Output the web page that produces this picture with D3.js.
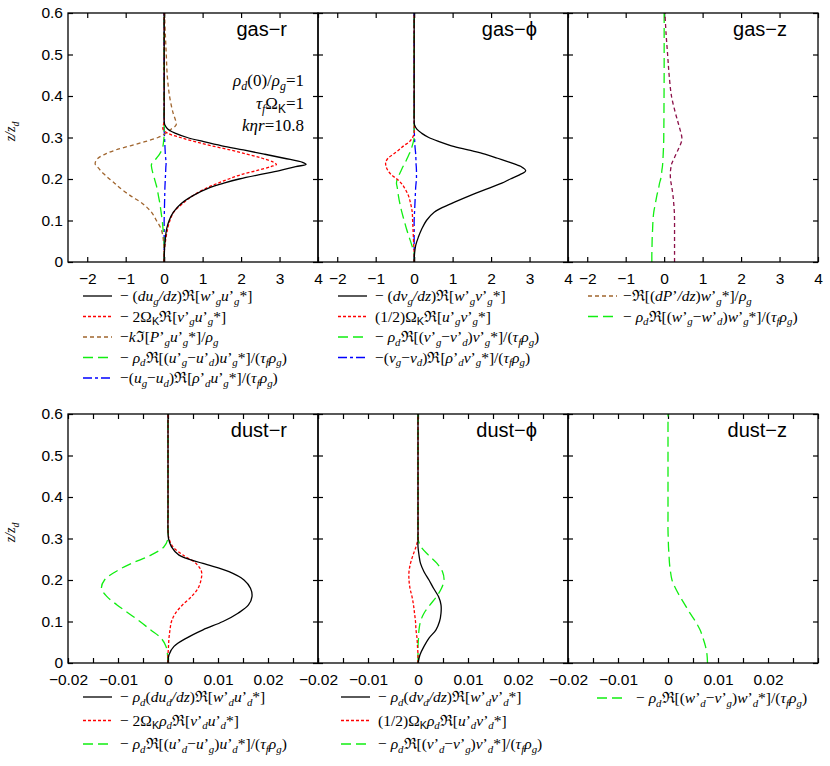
<!DOCTYPE html>
<html><head><meta charset="utf-8">
<script src="https://cdn.jsdelivr.net/npm/d3@7"></script>
<style>body{margin:0;background:#fff}svg{display:block}</style>
</head><body><svg id="c" width="830" height="766"></svg>
<script>
// ---------------- data ----------------
const panelTitles = ["gas−r", "gas−ϕ", "gas−z", "dust−r", "dust−ϕ", "dust−z"];
const yTicks = [0, 0.1, 0.2, 0.3, 0.4, 0.5, 0.6];
const yTickLabels = ["0", "0.1", "0.2", "0.3", "0.4", "0.5", "0.6"];
const xTicksGas = [-2, -1, 0, 1, 2, 3, 4];
const xTickLabelsGas = ["−2", "−1", "0", "1", "2", "3", "4"];
const xTicksDust = [-0.02, -0.015, -0.01, -0.005, 0, 0.005, 0.01, 0.015, 0.02, 0.025, 0.03];
const xTickLabelsDust = ["−0.02", "", "−0.01", "", "0", "", "0.01", "", "0.02", "", ""];
const annotation = ["~ρ~_d(0)/~ρ~_g=1", "~τ~_fΩ#K=1", "~kηr~=10.8"];

const zGas = [0,0.02,0.04,0.06,0.08,0.10,0.12,0.14,0.16,0.18,0.19,0.20,0.21,0.22,0.23,0.235,0.24,0.25,0.26,0.27,0.28,0.29,0.30,0.31,0.32,0.33,0.34,0.36,0.40,0.45,0.50,0.55,0.60];
const gasR_shear    = [0,0.005,0.015,0.035,0.065,0.13,0.24,0.43,0.75,1.2, 1.55,1.95,2.45,3.0,3.42,3.69,3.6,3.12,2.6,2.06,1.5,1.03,0.6,0.3,0.1,0.02,0, 0,0,0,0,0,0];
const gasR_coriolis = [0,0,0.02,0.05,0.09,0.15,0.25,0.47,0.75,1.14, 1.4,1.68,1.98,2.4,2.78,2.92,2.85,2.55,2.15,1.72,1.23,0.8,0.42,0.1,-0.03,-0.02,0, 0,0,0,0,0,0];
const gasR_pressure = [0,0,-0.01,-0.03,-0.08,-0.2,-0.33,-0.55,-0.88,-1.17, -1.29,-1.42,-1.54,-1.65,-1.74,-1.79,-1.79,-1.72,-1.53,-1.26,-0.88,-0.5,-0.16,0.04,0.18,0.31,0.3, 0.23,0.14,0.08,0.055,0.03,0.01];
const gasR_drag     = [0,0,0,-0.01,-0.03,-0.05,-0.08,-0.11,-0.15,-0.19, -0.22,-0.25,-0.28,-0.31,-0.33,-0.33,-0.28,-0.2,-0.12,-0.06,-0.03,-0.015,-0.005,0,0,0,0, 0,0,0,0,0,0];
const gasR_mass     = [0,0,0,0,0,0,0.005,0.01,0.015,0.02, 0.025,0.03,0.035,0.04,0.045,0.05,0.05,0.04,0.03,0.025,0.02,0.015,0.01,0.005,0,0,0, 0,0,0,0,0,0];
const gasPhi_shear    = [0,0.01,0.04,0.11,0.2,0.32,0.52,0.95,1.45,2.0, 2.28,2.5,2.74,2.9,2.78,2.64,2.49,2.17,1.84,1.4,0.97,0.65,0.38,0.2,0.07,0.01,0, 0,0,0,0,0,0];
const gasPhi_coriolis = [0,0,-0.01,-0.02,-0.03,-0.04,-0.05,-0.09,-0.15,-0.26, -0.34,-0.45,-0.59,-0.68,-0.73,-0.74,-0.74,-0.68,-0.54,-0.4,-0.27,-0.12,-0.04,0,0,0,0, 0,0,0,0,0,0];
const gasPhi_drag     = [0,0,-0.06,-0.13,-0.2,-0.26,-0.32,-0.37,-0.41,-0.44, -0.46,-0.44,-0.39,-0.34,-0.29,-0.26,-0.23,-0.18,-0.13,-0.08,-0.05,-0.02,0,0,0,0,0, 0,0,0,0,0,0];
const gasPhi_mass     = [0,0,0,0,0,0,0.01,0.02,0.03,0.04, 0.05,0.06,0.06,0.06,0.055,0.05,0.05,0.045,0.04,0.03,0.02,0.015,0.01,0.005,0,0,0, 0,0,0,0,0,0];
const gasZ_pressure = [0.27,0.27,0.27,0.27,0.27,0.27,0.265,0.25,0.23,0.2, 0.18,0.165,0.16,0.165,0.18,0.19,0.21,0.26,0.31,0.36,0.41,0.45,0.46,0.44,0.41,0.38,0.35, 0.29,0.19,0.13,0.09,0.05,0.02];
const gasZ_drag     = [-0.32,-0.32,-0.315,-0.31,-0.3,-0.29,-0.27,-0.23,-0.19,-0.14, -0.12,-0.09,-0.07,-0.06,-0.045,-0.04,-0.035,-0.03,-0.025,-0.02,-0.015,-0.012,-0.01,-0.01,-0.008,-0.007,-0.006, -0.005,-0.003,0,0,0,0];

const zDust = [0,0.02,0.04,0.06,0.08,0.10,0.12,0.14,0.16,0.18,0.20,0.22,0.24,0.26,0.28,0.30,0.32,0.36,0.40,0.45,0.50,0.55,0.60];
const dustR_shear      = [0,0.0002,0.0012,0.0037,0.007,0.011,0.014,0.0161,0.0168,0.0165,0.0152,0.0122,0.007,0.0022,0.0007,0.0001,0,0,0,0,0,0,0];
const dustR_coriolis   = [0,0,0.0001,0.0002,0.0004,0.0007,0.0015,0.0029,0.0047,0.006,0.0066,0.0067,0.0056,0.003,0.001,0.0002,0,0,0,0,0,0,0];
const dustR_drag       = [0,-0.0001,-0.0004,-0.0014,-0.0035,-0.0056,-0.0079,-0.0102,-0.0122,-0.0133,-0.0127,-0.0105,-0.0073,-0.0034,-0.0008,0,0,0,0,0,0,0,0];
const dustPhi_shear    = [0,0.0004,0.0012,0.0022,0.0036,0.0043,0.0046,0.0046,0.0041,0.0031,0.0022,0.0012,0.0005,0.0002,0,0,0,0,0,0,0,0,0];
const dustPhi_coriolis = [0,0,-0.0001,-0.0002,-0.0004,-0.0005,-0.0007,-0.0009,-0.0012,-0.0016,-0.0018,-0.0018,-0.0015,-0.001,-0.0004,0,0,0,0,0,0,0,0];
const dustPhi_drag     = [0,0,0,0.0001,0.0002,0.0005,0.0012,0.0024,0.0037,0.0047,0.0052,0.0049,0.0038,0.0021,0.0006,0,0,0,0,0,0,0,0];
const dustZ_drag       = [0.0079,0.0078,0.0075,0.007,0.0064,0.0055,0.0044,0.0034,0.0024,0.0015,0.0008,0.0005,0.0003,0.0002,0.0001,0.00005,0,0,0,0,0,0,0];

const legendGasR = ["− (~du~_g~/dz~)ℜ[~w~’_g~u~’_g*]", "− 2Ω#Kℜ[~v~’_g~u~’_g*]", "−~k~ℑ[~P~’_g~u~’_g*]/~ρ~_g", "− ~ρ~_dℜ[(~u~’_g−~u~’_d)~u~’_g*]/(~τ~_f~ρ~_g)", "−(~u~_g−~u~_d)ℜ[~ρ~’_d~u~’_g*]/(~τ~_f~ρ~_g)"];
const legendGasPhi = ["− (~dv~_g~/dz~)ℜ[~w~’_g~v~’_g*]", "(1/2)Ω#Kℜ[~u~’_g~v~’_g*]", "− ~ρ~_dℜ[(~v~’_g−~v~’_d)~v~’_g*]/(~τ~_f~ρ~_g)", "−(~v~_g−~v~_d)ℜ[~ρ~’_d~v~’_g*]/(~τ~_f~ρ~_g)"];
const legendGasZ = ["−ℜ[(~dP~’~/dz~)~w~’_g*]/~ρ~_g", "− ~ρ~_dℜ[(~w~’_g−~w~’_d)~w~’_g*]/(~τ~_f~ρ~_g)"];
const legendDustR = ["− ~ρ~_d(~du~_d~/dz~)ℜ[~w~’_d~u~’_d*]", "− 2Ω#K~ρ~_dℜ[~v~’_d~u~’_d*]", "− ~ρ~_dℜ[(~u~’_d−~u~’_g)~u~’_d*]/(~τ~_f~ρ~_g)"];
const legendDustPhi = ["− ~ρ~_d(~dv~_d~/dz~)ℜ[~w~’_d~v~’_d*]", "(1/2)Ω#K~ρ~_dℜ[~u~’_d~v~’_d*]", "− ~ρ~_dℜ[(~v~’_d−~v~’_g)~v~’_d*]/(~τ~_f~ρ~_g)"];
const legendDustZ = ["− ~ρ~_dℜ[(~w~’_d−~v~’_g)~w~’_d*]/(~τ~_f~ρ~_g)"];

// ---------------- styles / layout ----------------
const ST = {
  black: {color: "#000", dash: null, w: 1.3},
  red:   {color: "#ff0000", dash: "3,2", w: 1.3},
  brown: {color: "#a0652e", dash: "4,3", w: 1.3},
  green: {color: "#11ee11", dash: "10,5", w: 1.3},
  blue:  {color: "#0000ff", dash: "9,3,3,3", w: 1.3},
  maroon:{color: "#8b1048", dash: "4,3", w: 1.3}
};
const panelLeft = [68, 318, 568], panelW = 250;
const rowsCfg = [
  {top: 13, bottom: 262, domain: [-2.5, 4], ticks: xTicksGas, labels: xTickLabelsGas, z: zGas},
  {top: 414, bottom: 663, domain: [-0.02, 0.03], ticks: xTicksDust, labels: xTickLabelsDust, z: zDust}
];
const topRows = [296, 316.5, 337, 357.5, 378];
const botRows = [697, 720.5, 744];
const panels = [
  {row: 0, col: 0, series: [[gasR_shear,"black"],[gasR_coriolis,"red"],[gasR_pressure,"brown"],[gasR_drag,"green"],[gasR_mass,"blue"]], legend: legendGasR, lsample: 15, ltext: 52, ly: topRows, lstyles: ["black","red","brown","green","blue"]},
  {row: 0, col: 1, series: [[gasPhi_shear,"black"],[gasPhi_coriolis,"red"],[gasPhi_drag,"green"],[gasPhi_mass,"blue"]], legend: legendGasPhi, lsample: 20, ltext: 57, ly: topRows, lstyles: ["black","red","green","blue"]},
  {row: 0, col: 2, series: [[gasZ_pressure,"maroon"],[gasZ_drag,"green"]], legend: legendGasZ, lsample: 20, ltext: 55, ly: topRows, lstyles: ["brown","green"]},
  {row: 1, col: 0, series: [[dustR_shear,"black"],[dustR_coriolis,"red"],[dustR_drag,"green"]], legend: legendDustR, lsample: 15, ltext: 52, ly: botRows, lstyles: ["black","red","green"]},
  {row: 1, col: 1, series: [[dustPhi_shear,"black"],[dustPhi_coriolis,"red"],[dustPhi_drag,"green"]], legend: legendDustPhi, lsample: 23, ltext: 60, ly: botRows, lstyles: ["black","red","green"]},
  {row: 1, col: 2, series: [[dustZ_drag,"green"]], legend: legendDustZ, lsample: 29, ltext: 68, ly: [698], lstyles: ["green"]}
];

const svg = d3.select("#c");
const SERIF = "'Liberation Serif','Times New Roman',Times,'DejaVu Serif',serif";
const SANS = "'Liberation Sans',Arial,Helvetica,sans-serif";

// rich text: ~ toggles italic, _c italic subscript char, #c upright subscript char
function rich(sel, str, fs) {
  let italic = false, cur = 0, buf = "";
  const sub = fs * 0.25;
  const put = (txt, it, off, size, fam) => {
    const t = sel.append("tspan").text(txt)
      .attr("font-style", it ? "italic" : "normal")
      .attr("dy", off - cur);
    if (size) t.attr("font-size", size);
    if (fam) t.attr("font-family", fam);
    cur = off;
  };
  const flush = () => { if (buf) { put(buf, italic, 0); buf = ""; } };
  for (let i = 0; i < str.length; i++) {
    const c = str[i];
    if (c === "~") { flush(); italic = !italic; }
    else if (c === "_") { flush(); put(str[++i], true, sub, fs * 0.7); }
    else if (c === "#") { flush(); put(str[++i], false, sub, fs * 0.7, SANS); }
    else buf += c;
  }
  flush();
}

panels.forEach((p, pi) => {
  const rc = rowsCfg[p.row];
  const x0 = panelLeft[p.col];
  const x = d3.scaleLinear().domain(rc.domain).range([x0, x0 + panelW]);
  const y = d3.scaleLinear().domain([0, 0.6]).range([rc.bottom, rc.top]);
  const g = svg.append("g");
  const clipId = "clip" + pi;
  svg.append("clipPath").attr("id", clipId).append("rect")
    .attr("x", x0).attr("y", rc.top).attr("width", panelW).attr("height", rc.bottom - rc.top);

  // axes (inward ticks)
  const fmt = (d) => rc.labels[rc.ticks.indexOf(d)];
  const axB = g.append("g").attr("transform", `translate(0,${rc.bottom})`)
    .call(d3.axisBottom(x).tickValues(rc.ticks).tickSize(-5).tickPadding(11).tickFormat(fmt));
  const axT = g.append("g").attr("transform", `translate(0,${rc.top})`)
    .call(d3.axisTop(x).tickValues(rc.ticks).tickSize(-5).tickFormat(""));
  const axL = g.append("g").attr("transform", `translate(${x0},0)`)
    .call(d3.axisLeft(y).tickValues(yTicks).tickSize(-5).tickPadding(5)
      .tickFormat(p.col === 0 ? (d => yTickLabels[yTicks.indexOf(d)]) : ""));
  const axR = g.append("g").attr("transform", `translate(${x0 + panelW},0)`)
    .call(d3.axisRight(y).tickValues(yTicks).tickSize(-5).tickFormat(""));
  [axB, axT, axL, axR].forEach(a => {
    a.select(".domain").remove();
    a.selectAll("line").attr("stroke", "#000").attr("stroke-width", 1.2);
    a.selectAll("text").attr("font-family", SANS).attr("font-size", 15.5).attr("fill", "#000");
  });

  // curves
  const line = d3.line().x(d => x(d[1])).y(d => y(d[0])).curve(d3.curveCatmullRom.alpha(0.5));
  const cg = g.append("g").attr("clip-path", `url(#${clipId})`);
  p.series.slice().reverse().forEach(([vals, sk]) => {
    const s = ST[sk];
    cg.append("path").datum(rc.z.map((z, i) => [z, vals[i]]))
      .attr("d", line).attr("fill", "none").attr("stroke", s.color)
      .attr("stroke-width", s.w).attr("stroke-dasharray", s.dash);
  });

  // frame
  g.append("rect").attr("x", x0).attr("y", rc.top).attr("width", panelW).attr("height", rc.bottom - rc.top)
    .attr("fill", "none").attr("stroke", "#000").attr("stroke-width", 1.3);

  // title
  g.append("text").attr("x", x0 + panelW - 31).attr("y", rc.top + 23)
    .attr("text-anchor", "end").attr("font-family", SANS).attr("font-size", 20).text(panelTitles[pi]);

  // legend
  p.legend.forEach((lab, i) => {
    const s = ST[p.lstyles[i]];
    const yy = p.ly[i];
    g.append("line").attr("x1", x0 + p.lsample).attr("x2", x0 + p.lsample + 29)
      .attr("y1", yy).attr("y2", yy).attr("stroke", s.color).attr("stroke-width", 1.3)
      .attr("stroke-dasharray", s.dash);
    const t = g.append("text").attr("x", x0 + p.ltext).attr("y", yy + 5)
      .attr("font-family", SERIF).attr("font-size", 15.5);
    rich(t, lab, 15.5);
  });

  // y axis title
  if (p.col === 0) {
    const t = g.append("text").attr("transform", `translate(15,${(rc.top + rc.bottom) / 2 - 6}) rotate(-90)`)
      .attr("text-anchor", "middle").attr("font-family", SERIF).attr("font-size", 14);
    rich(t, "~z/z~_d", 14);
  }
  if (pi === 0) {
    annotation.forEach((a, i) => {
      const t = g.append("text").attr("x", x0 + panelW - 14).attr("y", rc.top + 73 + i * 22.5)
        .attr("text-anchor", "end").attr("font-family", SERIF).attr("font-size", 17);
      rich(t, a, 17);
    });
  }
});
</script></body></html>
